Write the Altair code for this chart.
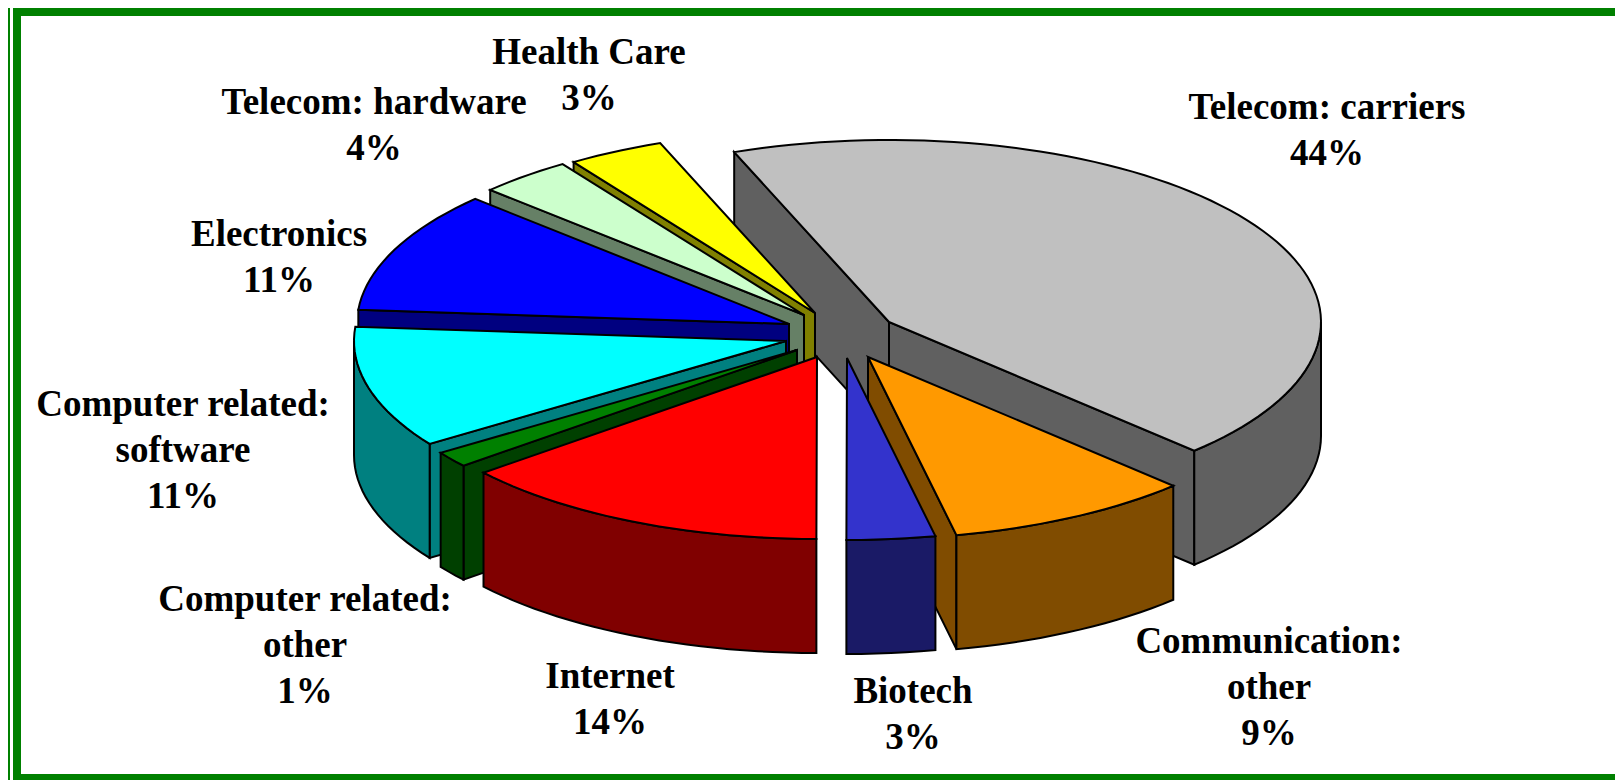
import math
import altair as alt

# ---- data ----
CATEGORIES = ["Telecom: carriers", "Communication: other", "Biotech", "Internet",
              "Computer related: other", "Computer related: software", "Electronics",
              "Telecom: hardware", "Health Care"]
VALUES = [43.3, 9.2, 3.3, 14.0, 1.4, 10.8, 10.8, 3.5, 3.6]   # unrounded shares, sweep of each slice
PERCENT_LABELS = ["44%", "9%", "3%", "14%", "1%", "11%", "11%", "4%", "3%"]
LABEL_LINES = [["Telecom: carriers"], ["Communication:", "other"], ["Biotech"], ["Internet"],
               ["Computer related:", "other"], ["Computer related:", "software"],
               ["Electronics"], ["Telecom: hardware"], ["Health Care"]]

# ---- styles ----
TOP_COLORS = ["#C0C0C0", "#FF9900", "#3333CC", "#FF0000", "#008000", "#00FFFF", "#0000FF", "#CCFFCC", "#FFFF00"]
WALL_COLORS = ["#606060", "#804C00", "#1A1A66", "#800000", "#004000", "#008080", "#000080", "#668066", "#808000"]
FRAME_GREEN = "#008000"

# ---- layout (page pixels) ----
START_ANGLE = -21.0
DEPTH = 114
APEX = [(889, 322), (868, 357), (847, 358), (817, 357), (797, 350), (786, 341), (789, 324), (804, 315), (815, 313)]
RX = 432
RY = 182
PAINT_ORDER = [0, 8, 7, 6, 5, 4, 1, 2, 3]
LABEL_X = [1327, 1269, 913, 610, 305, 183, 279, 374, 589]
LABEL_Y = [108, 642, 692, 677, 600, 405, 235, 103, 53]
LINE_GAP = 46
FONT_SIZE = 37
OFFSET = 8  # page margin


def rim(i, deg):
    t = math.radians(deg)
    return (APEX[i][0] + RX * math.sin(t), APEX[i][1] - RY * math.cos(t))


def arc_points(i, a, b):
    n = max(2, int(abs(b - a) / 2) + 1)
    return [rim(i, a + (b - a) * k / n) for k in range(n + 1)]


def feature(points, fill, stroke=True):
    ring = [[round(x - OFFSET, 2), round(y - OFFSET, 2)] for x, y in points]
    ring.append(ring[0])
    return {"type": "Feature", "geometry": {"type": "Polygon", "coordinates": [ring]},
            "properties": {"fill": fill, "stroke": "#000000" if stroke else fill}}


def down(p):
    return (p[0], p[1] + DEPTH)


total = sum(VALUES)
edges = [START_ANGLE]
for v in VALUES:
    edges.append(edges[-1] + v / total * 360)

pie = []
for i in PAINT_ORDER:
    a, b = edges[i], edges[i + 1]
    wall, top = WALL_COLORS[i], TOP_COLORS[i]
    ap = APEX[i]
    # cut faces that look towards the viewer
    if math.sin(math.radians(a)) < -0.01:
        r = rim(i, a)
        pie.append(feature([ap, r, down(r), down(ap)], wall))
    if math.sin(math.radians(b)) > 0.01:
        r = rim(i, b)
        pie.append(feature([ap, r, down(r), down(ap)], wall))
    # outer wall, front half only
    lo, hi = max(a, 90), min(b, 270)
    if hi > lo:
        pts = arc_points(i, lo, hi)
        pie.append(feature(pts + [down(p) for p in reversed(pts)], wall))
    # top face
    pie.append(feature([ap] + arc_points(i, a, b), top))

# green frame
W, H = 1615, 780
frame = [
    feature([(8, 8), (10, 8), (10, H), (8, H)], FRAME_GREEN, False),
    feature([(13, 8), (21, 8), (21, H), (13, H)], FRAME_GREEN, False),
    feature([(13, 8), (W, 8), (W, 16), (13, 16)], FRAME_GREEN, False),
    feature([(13, 774), (W, 774), (W, H), (13, H)], FRAME_GREEN, False),
]

label_rows = []
for i, lines in enumerate(LABEL_LINES):
    for k, s in enumerate(lines + [PERCENT_LABELS[i]]):
        label_rows.append({"text": s, "x": LABEL_X[i] - OFFSET, "y": LABEL_Y[i] + k * LINE_GAP - OFFSET})

frame_layer = alt.Chart(alt.Data(values=frame)).mark_geoshape(strokeWidth=0).encode(
    fill=alt.Fill("properties.fill:N", scale=None)
).project(type="identity", scale=1, translate=[0, 0])

pie_layer = alt.Chart(alt.Data(values=pie)).mark_geoshape(strokeWidth=2, strokeJoin="miter").encode(
    fill=alt.Fill("properties.fill:N", scale=None),
    stroke=alt.Stroke("properties.stroke:N", scale=None),
).project(type="identity", scale=1, translate=[0, 0])

text_layer = alt.Chart(alt.Data(values=label_rows)).mark_text(
    font="Liberation Serif", fontWeight="bold", fontSize=FONT_SIZE, color="#000000",
    align="center", baseline="middle"
).encode(
    x=alt.X("x:Q", scale=None),
    y=alt.Y("y:Q", scale=None),
    text="text:N",
)

chart = alt.layer(frame_layer, pie_layer, text_layer).properties(
    width=W - OFFSET, height=H - OFFSET, padding=0,
    autosize=alt.AutoSizeParams(type="none"),
    background="white",
).configure_view(stroke=None)

chart.save("out.html", embed_options={"renderer": "svg", "actions": False})
